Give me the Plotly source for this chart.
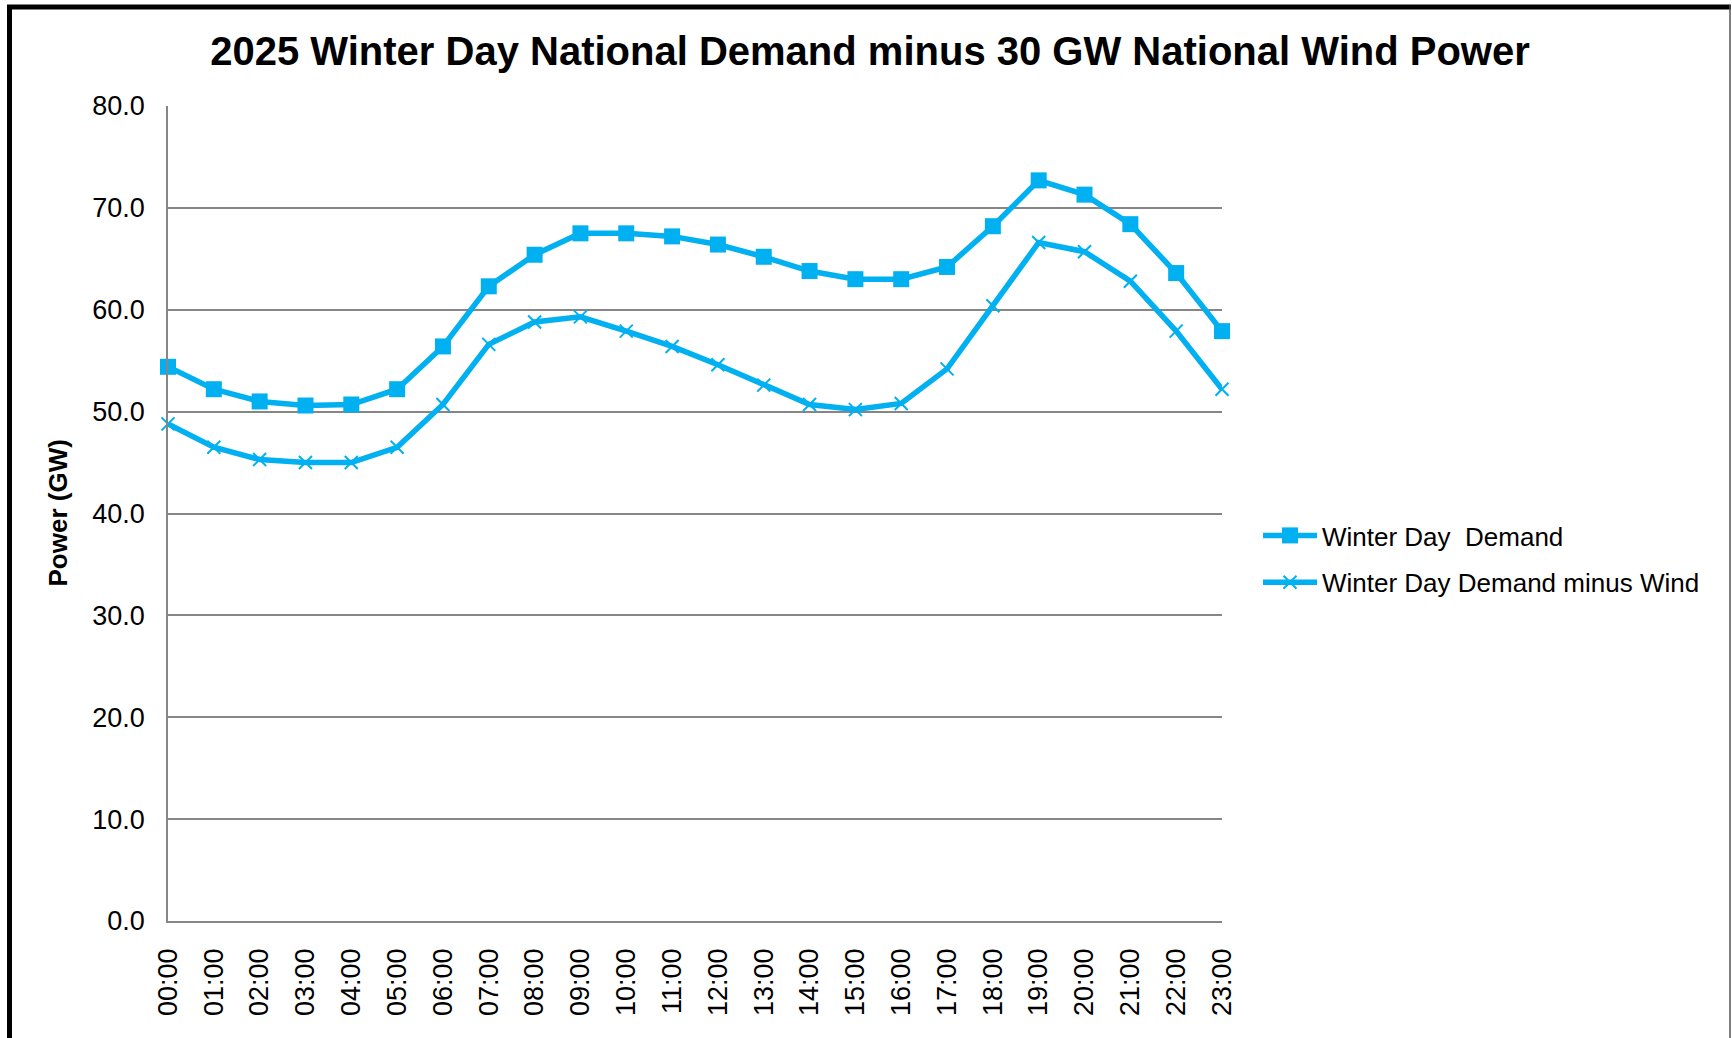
import plotly.graph_objects as go

hours = ["00:00", "01:00", "02:00", "03:00", "04:00", "05:00", "06:00", "07:00",
         "08:00", "09:00", "10:00", "11:00", "12:00", "13:00", "14:00", "15:00",
         "16:00", "17:00", "18:00", "19:00", "20:00", "21:00", "22:00", "23:00"]
demand = [54.4, 52.2, 51.0, 50.6, 50.7, 52.2, 56.4, 62.3, 65.4, 67.5, 67.5, 67.2,
          66.4, 65.2, 63.8, 63.0, 63.0, 64.2, 68.2, 72.7, 71.3, 68.4, 63.6, 57.9]
demand_minus_wind = [48.8, 46.5, 45.3, 45.0, 45.0, 46.5, 50.7, 56.6, 58.8, 59.3, 57.9, 56.4,
                     54.6, 52.6, 50.7, 50.2, 50.8, 54.2, 60.4, 66.6, 65.7, 62.8, 57.9, 52.2]
y_ticks = [0, 10, 20, 30, 40, 50, 60, 70, 80]

W, H = 1732, 1038
L, R, T, B = 168, 510, 106, 117
PW, PH = W - L - R, H - T - B
FONT = "Liberation Sans, Arial, sans-serif"
BLUE = "#00B0F0"


def px(xp):
    return (xp - L) / PW


def py(yp):
    return (H - B - yp) / PH


xidx = list(range(len(hours)))

fig = go.Figure()
fig.add_trace(go.Scatter(
    x=xidx, y=demand, name="Winter Day\u00a0 Demand", mode="lines+markers",
    line=dict(color=BLUE, width=5.5),
    marker=dict(symbol="square", size=16, color=BLUE),
    cliponaxis=False, legendgroup="a"))
fig.add_trace(go.Scatter(
    x=xidx, y=demand_minus_wind, name="Winter Day Demand minus Wind", mode="lines+markers",
    line=dict(color=BLUE, width=5.5),
    marker=dict(symbol="x-thin", size=13, color=BLUE, line=dict(color=BLUE, width=2)),
    cliponaxis=False, legendgroup="b"))

fig.update_layout(
    width=W, height=H,
    margin=dict(l=L, r=R, t=T, b=B, autoexpand=False),
    paper_bgcolor="white", plot_bgcolor="white",
    font=dict(family=FONT, size=26, color="black"),
    showlegend=True,
    legend=dict(x=px(1258), y=py(512), xanchor="left", yanchor="top",
                font=dict(family=FONT, size=26, color="black"),
                itemwidth=54,
                tracegroupgap=10, bgcolor="rgba(0,0,0,0)"),
    title=dict(text="<b>2025 Winter Day National Demand minus 30 GW National Wind Power</b>",
               font=dict(family=FONT, size=40, color="black"),
               x=px(870), xref="paper", xanchor="center",
               y=1 - 51 / H, yref="container", yanchor="middle"),
)
fig.update_xaxes(
    range=[0, len(hours) - 1], tickmode="array", tickvals=xidx, ticktext=hours,
    tickangle=-90, showgrid=False, zeroline=False,
    showline=True, linecolor="#868686", linewidth=1.5,
    ticks="", ticklabelstandoff=15,
    tickfont=dict(family=FONT, size=27, color="black"))
fig.update_yaxes(
    range=[0, 80], tickmode="array", tickvals=y_ticks,
    ticktext=[f"{v:.1f}" for v in y_ticks],
    showgrid=True, gridcolor="#868686", gridwidth=1.5, zeroline=False,
    showline=True, linecolor="#868686", linewidth=1.5,
    ticks="", ticklabelstandoff=16,
    tickfont=dict(family=FONT, size=27, color="black"))

fig.add_annotation(text="<b>Power (GW)</b>", textangle=-90,
                   xref="paper", yref="paper", x=px(57), y=0.5,
                   xanchor="center", yanchor="middle", showarrow=False,
                   font=dict(family=FONT, size=26, color="black"))

# outer frame
fig.add_shape(type="line", xref="paper", yref="paper",
              x0=px(9.5), x1=px(9.5), y0=py(5), y1=py(1060),
              line=dict(color="black", width=5))
fig.add_shape(type="line", xref="paper", yref="paper",
              x0=px(7), x1=px(1731), y0=py(7), y1=py(7),
              line=dict(color="black", width=5))
fig.add_shape(type="line", xref="paper", yref="paper",
              x0=px(1730), x1=px(1730), y0=py(5), y1=py(1060),
              line=dict(color="#555555", width=1.5))

fig.write_html("out.html", config={"displayModeBar": False},
               post_script="document.body.style.margin='0px';document.body.style.overflow='hidden';")
